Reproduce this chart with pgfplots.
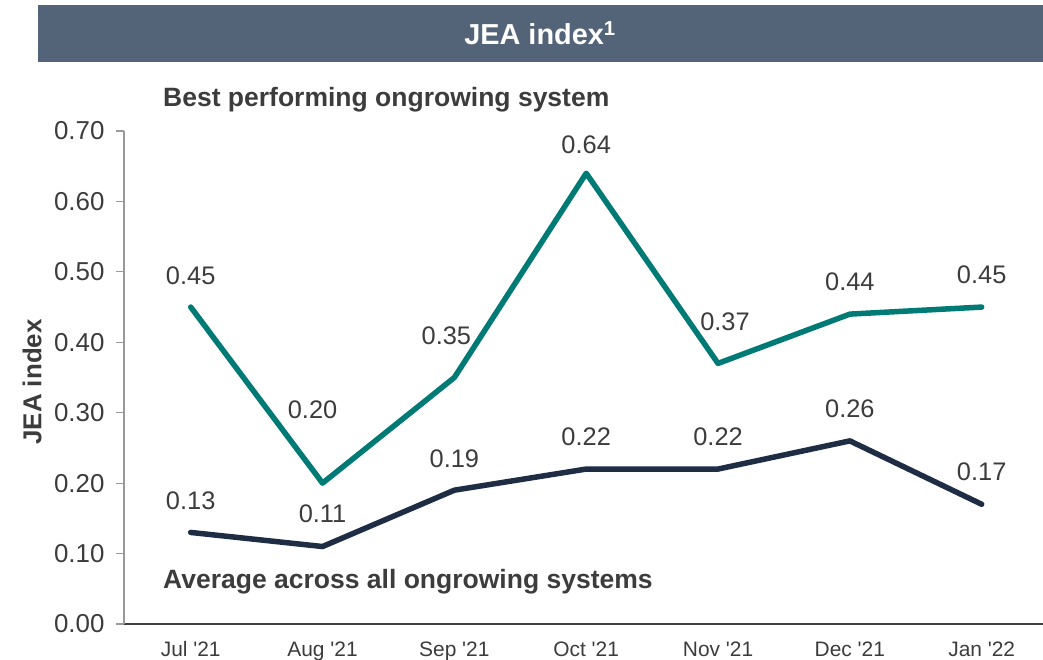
\documentclass[border=0pt]{standalone}
\usepackage{fontspec}
\setmainfont{Liberation Sans}
\usepackage{pgfplots}
\usepackage{pgfplotstable}
\pgfplotsset{compat=1.18}

\definecolor{banner}{RGB}{84,100,120}
\definecolor{jteal}{RGB}{0,122,116}
\definecolor{jnavy}{RGB}{30,45,68}
\definecolor{txt}{RGB}{60,60,60}

% month index, value, label offset (pt)
\pgfplotstableread{
x y dx dy
0 0.45 0 31
1 0.20 -10 74
2 0.35 -8 42
3 0.64 0 29
4 0.37 7 42
5 0.44 0 32
6 0.45 0 32
}\best
\pgfplotstableread{
x y dx dy
0 0.13 0 32
1 0.11 0 33
2 0.19 0 32
3 0.22 0 32
4 0.22 0 32
5 0.26 0 32
6 0.17 0 33
}\avg

\begin{document}
\begin{tikzpicture}
\path[use as bounding box] (-124bp,-36bp) rectangle (919bp,624bp);
\fill[banner] (-86bp,562bp) rectangle (919bp,619bp);
\node[white, font=\bfseries\fontsize{29}{29}\selectfont] at (416bp,590.5bp) {JEA index\textsuperscript{1}};
\begin{axis}[
    at={(0,0)}, anchor=south west,
    scale only axis, width=919bp, height=493bp,
    xmin=-0.506, xmax=6.465, ymin=0, ymax=0.7,
    clip=false,
    axis lines*=left,
    x axis line style={line width=2.2bp, color=black!75},
    y axis line style={line width=1.3bp, color=black!40},
    xtick={0,...,6},
    xticklabels={Jul \textquotesingle21, Aug \textquotesingle21, Sep \textquotesingle21, Oct \textquotesingle21, Nov \textquotesingle21, Dec \textquotesingle21, Jan \textquotesingle22},
    ytick={0,0.1,0.2,0.3,0.4,0.5,0.6,0.7},
    xtick style={draw=none},
    ytick style={draw=black!40, line width=1.2bp},
    tick align=outside, major tick length=8bp,
    /pgf/number format/.cd, fixed, fixed zerofill, precision=2, assume math mode=true,
    /pgfplots/.cd,
    yticklabel style={font=\fontsize{26}{26}\selectfont, text=txt, xshift=-8bp},
    xticklabel style={font=\fontsize{21}{21}\selectfont, text=txt, yshift=-6bp},
    ylabel={\textbf{JEA index}},
    ylabel style={at={(axis description cs:-0.100,0.491)}, anchor=center, font=\fontsize{26}{26}\selectfont, text=txt},
    visualization depends on={\thisrow{dx}\as\labdx},
    visualization depends on={\thisrow{dy}\as\labdy},
    nodes near coords,
    nodes near coords style={font=\fontsize{25.5}{25.5}\selectfont, text=txt, anchor=center, xshift=\labdx, yshift=\labdy},
  ]
  \addplot[jteal, line width=5.5bp, line cap=round, line join=round]
    table[x=x, y=y] {\best};
  \addplot[jnavy, line width=5.5bp, line cap=round, line join=round]
    table[x=x, y=y] {\avg};
\end{axis}
\node[anchor=west, inner sep=0pt, text=txt, font=\bfseries\fontsize{26.6}{26.6}\selectfont] at (39bp,524bp) {Best performing ongrowing system};
\node[anchor=west, inner sep=0pt, text=txt, font=\bfseries\fontsize{26.6}{26.6}\selectfont] at (39bp,42bp) {Average across all ongrowing systems};
\end{tikzpicture}
\end{document}
